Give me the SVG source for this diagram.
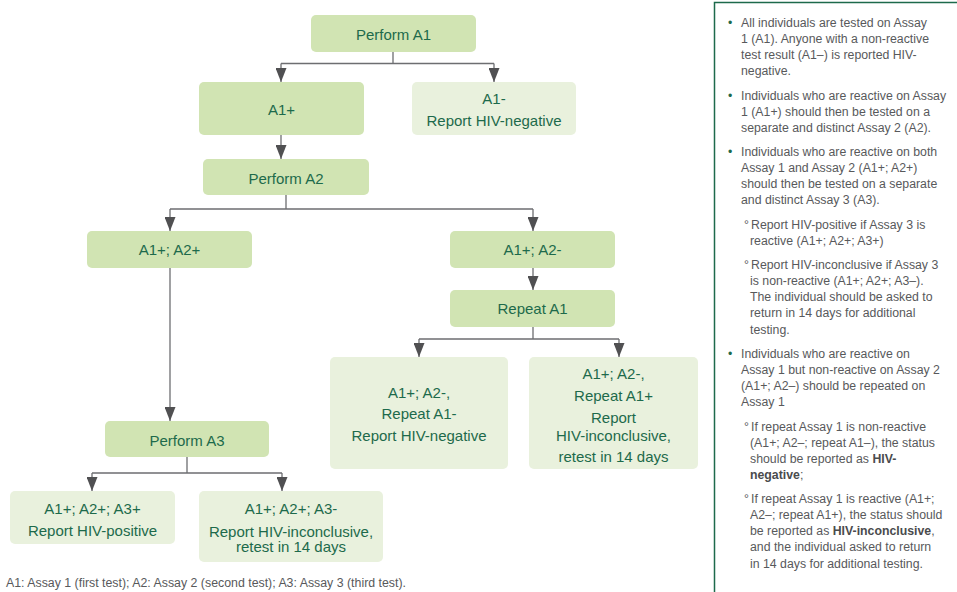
<svg xmlns="http://www.w3.org/2000/svg" width="957" height="592" viewBox="0 0 957 592">
<defs>
<marker id="arr" viewBox="0 0 14 11" refX="14" refY="5.5" markerWidth="14" markerHeight="11" markerUnits="userSpaceOnUse" orient="auto">
<path d="M0,0 L14,5.5 L0,11 z" fill="#505052"/>
</marker>
<style>
.n1{fill:#d1e4b3}
.n2{fill:#e9f1dd}
.t{font-family:"Liberation Sans",Arial,sans-serif;font-size:15px;fill:#1d6a4b;text-anchor:middle}
.c{fill:none;stroke:#6d6e71;stroke-width:1.3}
.p{font-family:"Liberation Sans",Arial,sans-serif;font-size:12.3px;fill:#58595b}
.b{font-weight:bold;fill:#4a4b4d}
.g{fill:#1d6a4b}
</style>
</defs>
<rect width="957" height="592" fill="#ffffff"/>

<g id="connectors">
<path class="c" d="M393,52 V63.5 M281,63.5 H494"/>
<path class="c" d="M281,63.5 V82" marker-end="url(#arr)"/>
<path class="c" d="M494,63.5 V82" marker-end="url(#arr)"/>
<path class="c" d="M281,135 V159" marker-end="url(#arr)"/>
<path class="c" d="M286,195 V209 M170,209 H533"/>
<path class="c" d="M170,209 V231" marker-end="url(#arr)"/>
<path class="c" d="M533,209 V231" marker-end="url(#arr)"/>
<path class="c" d="M533,268 V290" marker-end="url(#arr)"/>
<path class="c" d="M533,327 V339 M419,339 H619"/>
<path class="c" d="M419,339 V357" marker-end="url(#arr)"/>
<path class="c" d="M619,339 V357" marker-end="url(#arr)"/>
<path class="c" d="M170,268 V421" marker-end="url(#arr)"/>
<path class="c" d="M187,457 V473 M92,473 H282"/>
<path class="c" d="M92,473 V491" marker-end="url(#arr)"/>
<path class="c" d="M282,473 V491" marker-end="url(#arr)"/>
</g>

<g id="performA1"><rect class="n1" x="311" y="15" width="165" height="37" rx="5"/><text class="t" x="393.5" y="39.5">Perform A1</text></g>
<g id="a1pos"><rect class="n1" x="199" y="82" width="165" height="53" rx="5"/><text class="t" x="281.5" y="114.5">A1+</text></g>
<g id="a1neg"><rect class="n2" x="412" y="82" width="164" height="53" rx="5"/><text class="t" x="494" y="103.5">A1-</text><text class="t" x="494" y="125.5">Report HIV-negative</text></g>
<g id="performA2"><rect class="n1" x="203" y="159" width="166" height="36" rx="5"/><text class="t" x="286" y="183.5">Perform A2</text></g>
<g id="a1pa2p"><rect class="n1" x="87" y="231" width="165" height="37" rx="5"/><text class="t" x="169.5" y="255">A1+; A2+</text></g>
<g id="a1pa2n"><rect class="n1" x="450" y="231" width="165" height="37" rx="5"/><text class="t" x="532.5" y="255">A1+; A2-</text></g>
<g id="repeatA1"><rect class="n1" x="450" y="290" width="165" height="37" rx="5"/><text class="t" x="532.5" y="314">Repeat A1</text></g>
<g id="repeatNeg"><rect class="n2" x="330" y="357" width="178" height="112" rx="5"/><text class="t" x="419" y="397.5">A1+; A2-,</text><text class="t" x="419" y="419">Repeat A1-</text><text class="t" x="419" y="441">Report HIV-negative</text></g>
<g id="repeatPos"><rect class="n2" x="529" y="357" width="169" height="112" rx="5"/><text class="t" x="613.5" y="378.5">A1+; A2-,</text><text class="t" x="613.5" y="400.5">Repeat A1+</text><text class="t" x="613.5" y="422.5">Report</text><text class="t" x="613.5" y="441">HIV-inconclusive,</text><text class="t" x="613.5" y="462">retest in 14 days</text></g>
<g id="performA3"><rect class="n1" x="105" y="421" width="164" height="36" rx="5"/><text class="t" x="187" y="445.5">Perform A3</text></g>
<g id="a3pos"><rect class="n2" x="10" y="491" width="165" height="53" rx="5"/><text class="t" x="92.5" y="513.5">A1+; A2+; A3+</text><text class="t" x="92.5" y="535.5">Report HIV-positive</text></g>
<g id="a3neg"><rect class="n2" x="199" y="491" width="184" height="71" rx="5"/><text class="t" x="291" y="513.5">A1+; A2+; A3-</text><text class="t" x="291" y="536.5">Report HIV-inconclusive,</text><text class="t" x="291" y="552">retest in 14 days</text></g>

<text id="footer" class="p" x="6" y="587" textLength="400" lengthAdjust="spacingAndGlyphs">A1: Assay 1 (first test); A2: Assay 2 (second test); A3: Assay 3 (third test).</text>

<g id="panel">
<path d="M714.5,592 V2.5 H957" fill="none" stroke="#1d6a4b" stroke-width="1.5"/>
<text class="p g" x="728" y="26.5">•</text>
<text class="p" x="741" y="26.5">All individuals are tested on Assay</text>
<text class="p" x="741" y="42.5">1 (A1). Anyone with a non-reactive</text>
<text class="p" x="741" y="58.5">test result (A1–) is reported HIV-</text>
<text class="p" x="741" y="74.5">negative.</text>
<text class="p g" x="728" y="99.5">•</text>
<text class="p" x="741" y="99.5">Individuals who are reactive on Assay</text>
<text class="p" x="741" y="115.5">1 (A1+) should then be tested on a</text>
<text class="p" x="741" y="131.5">separate and distinct Assay 2 (A2).</text>
<text class="p g" x="728" y="155.5">•</text>
<text class="p" x="741" y="155.5">Individuals who are reactive on both</text>
<text class="p" x="741" y="171.5">Assay 1 and Assay 2 (A1+; A2+)</text>
<text class="p" x="741" y="187.5">should then be tested on a separate</text>
<text class="p" x="741" y="203.5">and distinct Assay 3 (A3).</text>
<text class="p" x="744" y="228.5">°</text>
<text class="p" x="751" y="228.5">Report HIV-positive if Assay 3 is</text>
<text class="p" x="750" y="244.5">reactive (A1+; A2+; A3+)</text>
<text class="p" x="744" y="268.5">°</text>
<text class="p" x="751" y="268.5">Report HIV-inconclusive if Assay 3</text>
<text class="p" x="750" y="284.5">is non-reactive (A1+; A2+; A3–).</text>
<text class="p" x="750" y="300.5">The individual should be asked to</text>
<text class="p" x="750" y="317">return in 14 days for additional</text>
<text class="p" x="750" y="333.5">testing.</text>
<text class="p g" x="728" y="357.5">•</text>
<text class="p" x="741" y="357.5">Individuals who are reactive on</text>
<text class="p" x="741" y="373.5">Assay 1 but non-reactive on Assay 2</text>
<text class="p" x="741" y="389.5">(A1+; A2–) should be repeated on</text>
<text class="p" x="741" y="405.5">Assay 1</text>
<text class="p" x="744" y="430.5">°</text>
<text class="p" x="751" y="430.5">If repeat Assay 1 is non-reactive</text>
<text class="p" x="750" y="446.5">(A1+; A2–; repeat A1–), the status</text>
<text class="p" x="750" y="462.5">should be reported as <tspan class="b">HIV-</tspan></text>
<text class="p" x="750" y="479"><tspan class="b">negative</tspan>;</text>
<text class="p" x="744" y="502.5">°</text>
<text class="p" x="751" y="502.5">If repeat Assay 1 is reactive (A1+;</text>
<text class="p" x="750" y="518.5">A2–; repeat A1+), the status should</text>
<text class="p" x="750" y="534.5">be reported as <tspan class="b">HIV-inconclusive</tspan>,</text>
<text class="p" x="750" y="551">and the individual asked to return</text>
<text class="p" x="750" y="567.5">in 14 days for additional testing.</text>
</g>
</svg>
